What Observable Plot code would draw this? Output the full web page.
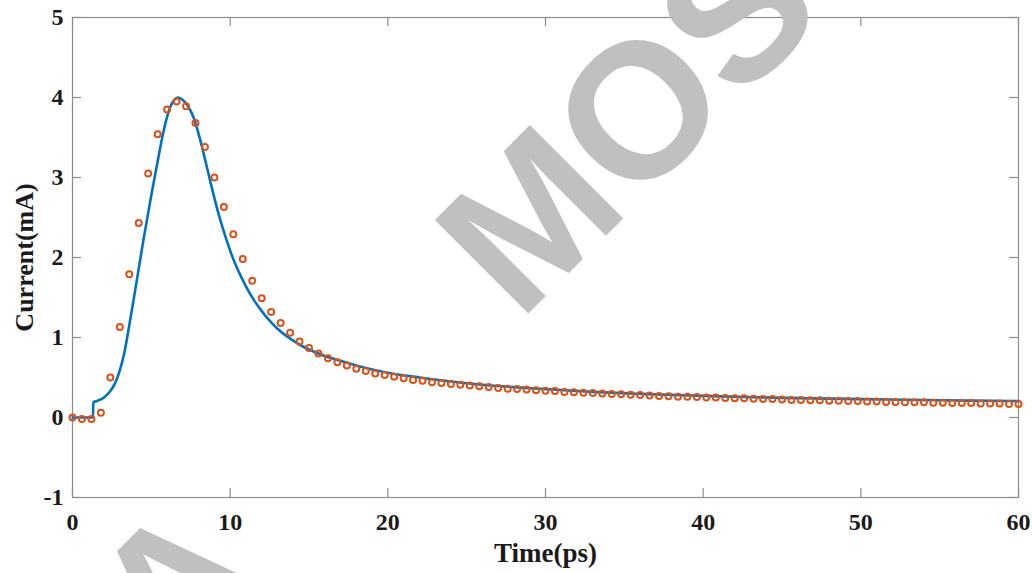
<!DOCTYPE html>
<html>
<head>
<meta charset="utf-8">
<script src="https://cdn.jsdelivr.net/npm/d3@7"></script>
<script src="https://cdn.jsdelivr.net/npm/@observablehq/plot@0.6"></script>
<style>
  html, body { margin: 0; padding: 0; background: #fff; }
  #chart svg { display: block; }
</style>
</head>
<body>
<div id="chart"></div>
<script>
// Sampled current (orange circles), one sample every 0.6 ps
const sampleTime = [
  0, 0.6, 1.2, 1.8, 2.4, 3, 3.6, 4.2, 4.8, 5.4,
  6, 6.6, 7.2, 7.8, 8.4, 9, 9.6, 10.2, 10.8, 11.4,
  12, 12.6, 13.2, 13.8, 14.4, 15, 15.6, 16.2, 16.8, 17.4,
  18, 18.6, 19.2, 19.8, 20.4, 21, 21.6, 22.2, 22.8, 23.4,
  24, 24.6, 25.2, 25.8, 26.4, 27, 27.6, 28.2, 28.8, 29.4,
  30, 30.6, 31.2, 31.8, 32.4, 33, 33.6, 34.2, 34.8, 35.4,
  36, 36.6, 37.2, 37.8, 38.4, 39, 39.6, 40.2, 40.8, 41.4,
  42, 42.6, 43.2, 43.8, 44.4, 45, 45.6, 46.2, 46.8, 47.4,
  48, 48.6, 49.2, 49.8, 50.4, 51, 51.6, 52.2, 52.8, 53.4,
  54, 54.6, 55.2, 55.8, 56.4, 57, 57.6, 58.2, 58.8, 59.4,
  60
];
const sampleCurrent = [
  0.00, -0.02, -0.02, 0.06, 0.50, 1.13, 1.79, 2.43, 3.05, 3.54,
  3.85, 3.95, 3.89, 3.68, 3.38, 3.00, 2.63, 2.29, 1.98, 1.71,
  1.49, 1.32, 1.18, 1.06, 0.95, 0.87, 0.80, 0.74, 0.69, 0.65,
  0.61, 0.58, 0.55, 0.53, 0.51, 0.49, 0.47, 0.46, 0.44, 0.43,
  0.42, 0.41, 0.40, 0.39, 0.38, 0.37, 0.36, 0.355, 0.35, 0.34,
  0.335, 0.33, 0.32, 0.315, 0.31, 0.305, 0.30, 0.295, 0.29, 0.285,
  0.28, 0.275, 0.27, 0.265, 0.26, 0.26, 0.255, 0.25, 0.25, 0.245,
  0.24, 0.24, 0.235, 0.23, 0.23, 0.225, 0.22, 0.22, 0.215, 0.215,
  0.21, 0.21, 0.205, 0.205, 0.20, 0.20, 0.195, 0.195, 0.19, 0.19,
  0.19, 0.185, 0.185, 0.18, 0.18, 0.18, 0.175, 0.175, 0.175, 0.17,
  0.17
];

// Model current (blue curve)
const modelTime = [
  0, 1.3, 1.32, 1.6, 2.0, 2.4, 2.7, 3.0, 3.3, 3.6,
  4.0, 4.5, 5.0, 5.4, 5.8, 6.2, 6.5, 6.7, 7.0, 7.3,
  7.7, 8.1, 8.5, 8.9, 9.3, 9.7, 10.1, 10.5, 11.0, 11.5,
  12.0, 12.5, 13.0, 13.5, 14.0, 14.5, 15.0, 16.0, 17.0, 18.0,
  19.0, 20.0, 22.0, 24.0, 26.0, 28.0, 30.0, 33.0, 36.0, 40.0,
  45.0, 50.0, 55.0, 60.0
];
const modelCurrent = [
  0, 0, 0.19, 0.21, 0.25, 0.33, 0.43, 0.59, 0.82, 1.15,
  1.62, 2.22, 2.78, 3.20, 3.60, 3.88, 3.98, 4.00, 3.97, 3.90,
  3.74, 3.47, 3.15, 2.82, 2.52, 2.26, 2.03, 1.84, 1.64, 1.47,
  1.33, 1.21, 1.11, 1.03, 0.96, 0.90, 0.85, 0.77, 0.71, 0.65,
  0.60, 0.56, 0.50, 0.45, 0.41, 0.38, 0.355, 0.32, 0.295, 0.27,
  0.245, 0.23, 0.215, 0.205
];

const xTicks = [0, 10, 20, 30, 40, 50, 60];
const yTicks = [-1, 0, 1, 2, 3, 4, 5];
const xTitle = "Time(ps)";
const yTitle = "Current(mA)";
const stamp = "MOS";
const stamp2 = "A";

const samples = sampleTime.map((t, i) => ({t, v: sampleCurrent[i]}));
const model = modelTime.map((t, i) => ({t, v: modelCurrent[i]}));

const W = 1032, H = 573;
const mL = 72, mR = 14, mT = 17, mB = 76;
const frameW = W - mL - mR, frameH = H - mT - mB;
const tickLen = 9;
const axisGray = "#8c8c8c";
const serif = "'Liberation Serif', 'Times New Roman', serif";
const sans = "'Liberation Sans', Arial, sans-serif";
const ink = "#1a1a1a";

const chart = Plot.plot({
  width: W,
  height: H,
  marginLeft: mL,
  marginRight: mR,
  marginTop: mT,
  marginBottom: mB,
  style: {fontFamily: serif, background: "#fff", color: ink},
  x: {domain: [0, 60]},
  y: {domain: [-1, 5]},
  marks: [
    Plot.frame({stroke: axisGray, strokeWidth: 1.2}),
    // inward ticks on all four sides
    Plot.tickX(xTicks, {x: d => d, stroke: axisGray, strokeWidth: 1.2, insetTop: frameH - tickLen}),
    Plot.tickX(xTicks, {x: d => d, stroke: axisGray, strokeWidth: 1.2, insetBottom: frameH - tickLen}),
    Plot.tickY(yTicks, {y: d => d, stroke: axisGray, strokeWidth: 1.2, insetRight: frameW - tickLen}),
    Plot.tickY(yTicks, {y: d => d, stroke: axisGray, strokeWidth: 1.2, insetLeft: frameW - tickLen}),
    Plot.axisX(xTicks, {tickSize: 0, tickPadding: 15, label: null, fontSize: 24, fontWeight: "bold", fontFamily: serif, fill: ink, tickFormat: d => String(d)}),
    Plot.axisY(yTicks, {tickSize: 0, tickPadding: 9, label: null, fontSize: 24, fontWeight: "bold", fontFamily: serif, fill: ink, tickFormat: d => String(d)}),
    Plot.text([xTitle], {frameAnchor: "bottom", dy: 56, textAnchor: "middle", lineAnchor: "middle", text: d => d, fontSize: 27, fontWeight: "bold", fontFamily: serif, fill: ink}),
    Plot.text([yTitle], {frameAnchor: "left", dx: -48, rotate: -90, textAnchor: "middle", lineAnchor: "middle", text: d => d, fontSize: 26, fontWeight: "bold", fontFamily: serif, fill: ink}),
    Plot.line(model, {x: "t", y: "v", stroke: "#0072BD", strokeWidth: 2.6, curve: "monotone-x"}),
    Plot.dot(samples, {x: "t", y: "v", r: 3, stroke: "#D95319", strokeWidth: 2, fill: "none"}),
    // diagonal stamp lettering
    Plot.text([stamp], {frameAnchor: "top-left", dx: 558, dy: 107, rotate: -45, textAnchor: "middle", lineAnchor: "middle", text: d => d, fontSize: 192, fontWeight: "bold", fontFamily: sans, fill: "#c0c0c0"}),
    Plot.text([stamp2], {frameAnchor: "top-left", dx: 106, dy: 572, rotate: -45, textAnchor: "middle", lineAnchor: "middle", text: d => d, fontSize: 192, fontWeight: "bold", fontFamily: sans, fill: "#c0c0c0"})
  ]
});

document.getElementById("chart").appendChild(chart);
</script>
</body>
</html>
